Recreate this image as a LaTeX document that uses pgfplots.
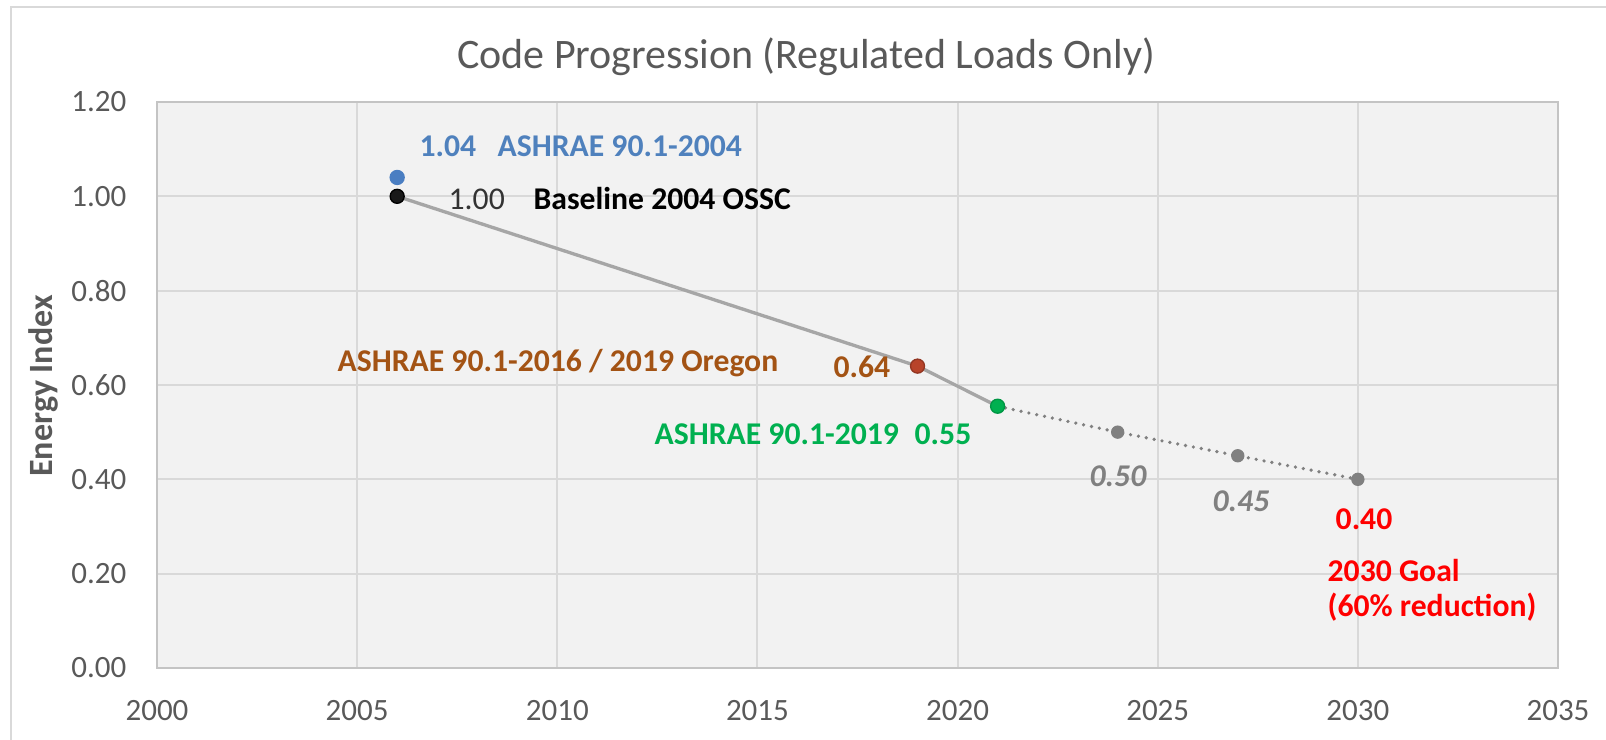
\documentclass[border=0pt]{standalone}
\usepackage{fontspec}
\setmainfont{Carlito}
\usepackage{pgfplots}
\pgfplotsset{compat=1.18}
\definecolor{gridc}{HTML}{D9D9D9}
\definecolor{boxc}{HTML}{C4C4C4}
\definecolor{bgc}{HTML}{F2F2F2}
\definecolor{txtg}{HTML}{595959}
\definecolor{blueL}{HTML}{4F81BD}
\definecolor{blueD}{HTML}{4A7EC2}
\definecolor{brownL}{HTML}{A35314}
\definecolor{redD}{HTML}{B8432A}
\definecolor{greenL}{HTML}{00B050}
\definecolor{lineg}{HTML}{A6A6A6}
\definecolor{dotg}{HTML}{808080}
\newcommand{\lbl}{\fontsize{9.5}{11.5}\selectfont}
\begin{document}
\begin{tikzpicture}
\begin{axis}[
  at={(0,0)}, anchor=south west,
  scale only axis, width=420.3pt, height=169.8pt,
  xmin=2000, xmax=2035, ymin=0, ymax=1.2,
  xtick={2000,2005,2010,2015,2020,2025,2030,2035},
  ytick={0,0.2,0.4,0.6,0.8,1.0,1.2},
  grid=major,
  major grid style={draw=gridc, line width=0.6pt},
  axis background/.style={fill=bgc},
  axis line style={draw=boxc, line width=0.7pt},
  major tick length=0pt,
  tick style={draw=none},
  /pgf/number format/assume math mode=true,
  /pgf/number format/1000 sep={},
  yticklabel style={/pgf/number format/fixed, /pgf/number format/fixed zerofill, /pgf/number format/precision=2},
  tick label style={font=\fontsize{9.3}{11}\selectfont, text=txtg, inner sep=0pt},
  xticklabel shift=9.6pt,
  yticklabel shift=9pt,
  clip=false,
]
\addplot[draw=lineg, line width=1pt, mark=none] coordinates {(2006,1.00) (2019,0.64) (2021,0.555)};
\addplot[draw=dotg, line width=1.1pt, line cap=round, dash pattern=on 0pt off 2.4pt, mark=none] coordinates {(2021,0.555) (2024,0.50) (2027,0.45) (2030,0.40)};
\addplot[only marks, mark=*, mark size=1.8pt, mark options={fill=dotg, draw=dotg}] coordinates {(2024,0.50) (2027,0.45) (2030,0.40)};
\addplot[only marks, mark=*, mark size=2.1pt, mark options={fill=blueD, draw=blueD}] coordinates {(2006,1.04)};
\addplot[only marks, mark=*, mark size=2.1pt, mark options={fill=black!90, draw=black}] coordinates {(2006,1.00)};
\addplot[only marks, mark=*, mark size=2.1pt, mark options={fill=redD, draw=redD!80!black}] coordinates {(2019,0.64)};
\addplot[only marks, mark=*, mark size=2.1pt, mark options={fill=greenL, draw=greenL!85!black}] coordinates {(2021,0.555)};
\end{axis}
\begin{scope}[x=0.3pt, y=-0.3pt, shift={(-47.1pt,200.4pt)}]
  \draw[gridc, line width=0.6pt] (11,740) -- (11,7) -- (1606,7);
  \node[anchor=base, font=\fontsize{12.6}{15}\selectfont, text=txtg, inner sep=0pt] at (806,69) {Code Progression (Regulated Loads Only)};
  \node[rotate=90, font=\fontsize{10.2}{12}\selectfont\bfseries, text=txtg, inner sep=0pt] at (43,386) {Energy Index};
  \node[anchor=base west, inner sep=0pt, font=\lbl\bfseries, text=blueL] at (419,157) {1.04};
  \node[anchor=base west, inner sep=0pt, font=\lbl\bfseries, text=blueL] at (497,157) {ASHRAE 90.1-2004};
  \node[anchor=base west, inner sep=0pt, font=\lbl, text=black!80] at (448,210) {1.00};
  \node[anchor=base west, inner sep=0pt, font=\lbl\bfseries, text=black] at (533,210) {Baseline 2004 OSSC};
  \node[anchor=base west, inner sep=0pt, font=\lbl\bfseries, text=brownL] at (337,372) {ASHRAE 90.1-2016 / 2019 Oregon};
  \node[anchor=base west, inner sep=0pt, font=\lbl\bfseries, text=brownL] at (833,378) {0.64};
  \node[anchor=base west, inner sep=0pt, font=\lbl\bfseries, text=greenL] at (654,445) {ASHRAE 90.1-2019};
  \node[anchor=base west, inner sep=0pt, font=\lbl\bfseries, text=greenL] at (914,445) {0.55};
  \node[anchor=base west, inner sep=0pt, font=\lbl\bfseries\itshape, text=dotg] at (1089,487) {0.50};
  \node[anchor=base west, inner sep=0pt, font=\lbl\bfseries\itshape, text=dotg] at (1212,512) {0.45};
  \node[anchor=base west, inner sep=0pt, font=\lbl\bfseries, text=red] at (1335,530) {0.40};
  \node[anchor=base west, inner sep=0pt, font=\lbl\bfseries, text=red] at (1327,582) {2030 Goal};
  \node[anchor=base west, inner sep=0pt, font=\lbl\bfseries, text=red] at (1327,617) {(60\% reduction)};
  \pgfresetboundingbox
  \path[use as bounding box] (0,0) rectangle (1606,740);
\end{scope}
\end{tikzpicture}
\end{document}
